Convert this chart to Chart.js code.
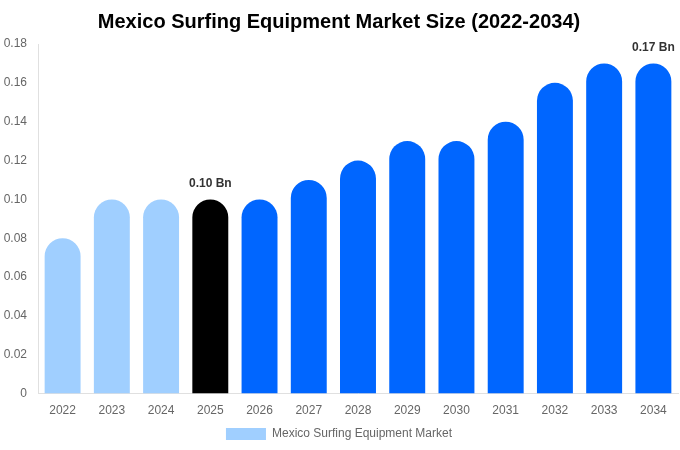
<!DOCTYPE html>
<html>
<head>
<meta charset="utf-8">
<script src="https://cdn.jsdelivr.net/npm/chart.js@4.4.1/dist/chart.umd.min.js"></script>
<style>
    html, body { margin: 0; padding: 0; background: #fff; }
    #wrap { width: 680px; height: 450px; }
</style>
</head>
<body>
<div id="wrap"><canvas id="GraficoMercado"></canvas></div>
<script>
/*Dados do gráfico*/
var anos = ['2022', '2023', '2024', '2025', '2026', '2027', '2028', '2029', '2030', '2031', '2032', '2033', '2034'];
var valores = [0.08, 0.10, 0.10, 0.10, 0.10, 0.11, 0.12, 0.13, 0.13, 0.14, 0.16, 0.17, 0.17];
var cores = ['#a0cfff', '#a0cfff', '#a0cfff', '#000000', '#0066ff', '#0066ff', '#0066ff', '#0066ff', '#0066ff', '#0066ff', '#0066ff', '#0066ff', '#0066ff'];
var rotulos = { 3: '0.10 Bn', 12: '0.17 Bn' };

/*Plugin para escrever os rótulos acima das barras*/
var rotulosPlugin = {
    id: 'rotulos',
    afterDatasetsDraw: function (chart) {
        var ctx = chart.ctx;
        var meta = chart.getDatasetMeta(0);
        ctx.save();
        ctx.font = 'bold 12px "Liberation Sans", Arial, sans-serif';
        ctx.fillStyle = '#333333';
        ctx.textAlign = 'center';
        ctx.textBaseline = 'bottom';
        Object.keys(rotulos).forEach(function (i) {
            var bar = meta.data[i];
            var x = Math.min(bar.x, chart.width - ctx.measureText(rotulos[i]).width / 2 - 4);
            ctx.fillText(rotulos[i], x, bar.y - 10);
        });
        ctx.restore();
    }
};

var ctx = document.getElementById('GraficoMercado').getContext('2d');
var grafico = new Chart(ctx, {
    type: 'bar',
    data: {
        labels: anos,
        datasets: [{
            label: 'Mexico Surfing Equipment Market',
            data: valores,
            backgroundColor: cores,
            borderRadius: { topLeft: 18, topRight: 18 },
            borderSkipped: false,
            barPercentage: 0.73,
            categoryPercentage: 1
        }]
    },
    options: {
        responsive: true,
        maintainAspectRatio: false,
        animation: false,
        layout: { padding: { left: 0, right: 2, top: 0, bottom: 0 } },
        plugins: {
            title: {
                display: true,
                text: 'Mexico Surfing Equipment Market Size (2022-2034)',
                color: '#000000',
                font: { size: 20, weight: 'bold', family: '"Liberation Sans", Arial, sans-serif' },
                padding: { top: 10, bottom: 10 }
            },
            legend: {
                position: 'bottom',
                labels: {
                    boxWidth: 40,
                    boxHeight: 12,
                    color: '#666666',
                    padding: 8,
                    font: { size: 12, family: '"Liberation Sans", Arial, sans-serif' },
                    generateLabels: function () {
                        return [{ text: 'Mexico Surfing Equipment Market', fillStyle: '#a0cfff', strokeStyle: '#a0cfff', lineWidth: 0, fontColor: '#666666' }];
                    }
                }
            },
            tooltip: { enabled: false }
        },
        scales: {
            x: {
                grid: { display: false },
                border: { display: true, color: '#e0e0e0' },
                ticks: { color: '#666666', font: { size: 12, family: '"Liberation Sans", Arial, sans-serif' }, padding: 2 }
            },
            y: {
                min: 0,
                max: 0.18,
                grid: { display: false, drawTicks: false },
                border: { display: true, color: '#e0e0e0' },
                afterFit: function (axis) { axis.width = 38; },
                ticks: {
                    stepSize: 0.02,
                    color: '#666666',
                    padding: 11,
                    font: { size: 12, family: '"Liberation Sans", Arial, sans-serif' },
                    callback: function (v) { return v === 0 ? '0' : v.toFixed(2); }
                }
            }
        }
    },
    plugins: [rotulosPlugin]
});
</script>
</body>
</html>
